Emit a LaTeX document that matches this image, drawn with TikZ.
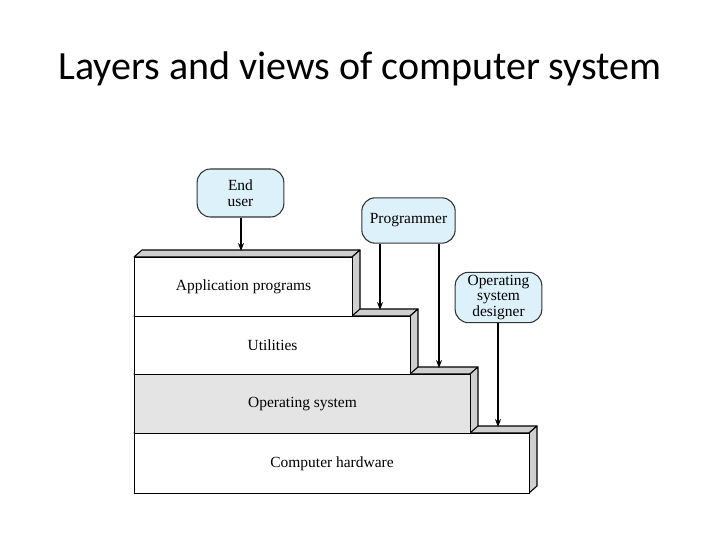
\documentclass[tikz,border=0pt]{standalone}
\usepackage{fontspec}
\setmainfont{Liberation Serif}
\newfontfamily\titlefont{Carlito}
\usetikzlibrary{arrows.meta}
\definecolor{userblue}{HTML}{DDF1FB}
\definecolor{facegray}{HTML}{CFCFCF}
\definecolor{osgray}{HTML}{E4E4E4}
\tikzset{
  layerbox/.style={draw=black, line width=0.8pt, anchor=north west, inner sep=0pt, font=\fontsize{11.6}{13}\selectfont},
  userbox/.style={draw=black!80, line width=0.8pt, fill=userblue, rounded corners=10pt, align=center, inner sep=2pt, font=\fontsize{11.6}{11.8}\selectfont},
  face/.style={draw=black, line width=0.8pt, fill=facegray, line join=round},
  viewarrow/.style={line width=1.3pt, -{Stealth[length=6pt,width=4.5pt]}},
}
\begin{document}
\begin{tikzpicture}[x=0.75pt, y=-0.75pt]
\useasboundingbox (0,0) rectangle (720,540);
\node[font=\titlefont\fontsize{30}{36}\selectfont] (title) at (360,69) {Layers and views of computer system};
% Computer hardware (bottom)
\fill[white] (134,433) rectangle (529,493);
\draw[face] (134,433) -- (142,426) -- (537,426) -- (529,433) -- cycle;
\draw[face] (529,433) -- (537,426) -- (537,486) -- (529,493) -- cycle;
\node[layerbox, minimum width=296.25pt, minimum height=45pt, fill=white] (hw) at (134,433) {Computer hardware};
% Operating system
\draw[face] (134,374) -- (142,367) -- (478,367) -- (470,374) -- cycle;
\draw[face] (470,374) -- (478,367) -- (478,426) -- (470,433) -- cycle;
\node[layerbox, minimum width=252pt, minimum height=44.25pt, fill=osgray] (os) at (134,374) {Operating system};
% Utilities
\draw[face] (134,316) -- (142,309) -- (418,309) -- (410,316) -- cycle;
\draw[face] (410,316) -- (418,309) -- (418,367) -- (410,374) -- cycle;
\node[layerbox, minimum width=207pt, minimum height=43.5pt, fill=white] (util) at (134,316) {Utilities};
% Application programs
\draw[face] (134,257) -- (142,250) -- (360,250) -- (352,257) -- cycle;
\draw[face] (352,257) -- (360,250) -- (360,309) -- (352,316) -- cycle;
\node[layerbox, minimum width=163.5pt, minimum height=44.25pt, fill=white] (app) at (134,257) {Application programs};
% Users
\node[userbox, minimum width=65pt, minimum height=36pt] (enduser) at (240.5,193) {End\\user};
\node[userbox, minimum width=70pt, minimum height=34pt] (prog) at (408.5,220.5) {Programmer};
\node[userbox, minimum width=65pt, minimum height=34pt] (osd) at (498.5,297.5) {Operating\\system\\designer};
% Arrow targets on the top faces
\coordinate (tApp) at (241,251);
\coordinate (tUtil) at (380,310);
\coordinate (tOS) at (439,368);
\coordinate (tHW) at (498,427);
\draw[viewarrow] (enduser.south -| tApp) -- (tApp);
\draw[viewarrow] (prog.south -| tUtil) -- (tUtil);
\draw[viewarrow] (prog.south -| tOS) -- (tOS);
\draw[viewarrow] (osd.south -| tHW) -- (tHW);
\end{tikzpicture}
\end{document}
